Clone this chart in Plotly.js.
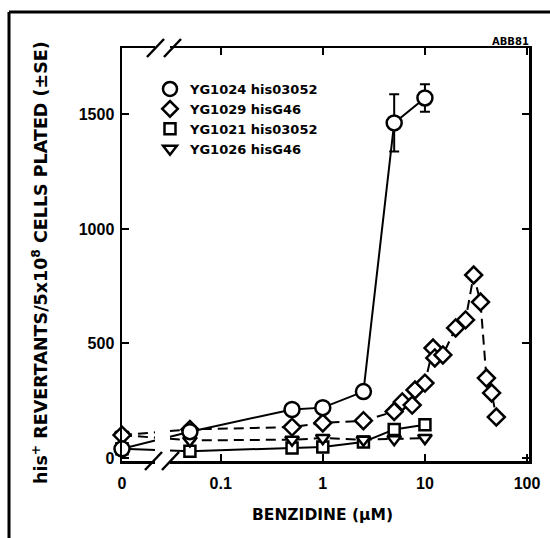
<!DOCTYPE html>
<html><head><meta charset="utf-8">
<script src="https://cdn.plot.ly/plotly-3.0.1.min.js"></script>
<style>html,body{margin:0;padding:0;background:#fff;} #chart{width:550px;height:538px;}</style>
</head><body><div id="chart"></div>
<script>
// ---- data (benzidine dose in uM, revertants per plate) ----
const doseCircle   = [0, 0.05, 0.5, 1, 2.5, 5, 10];
const revCircle    = [40, 115, 212, 220, 290, 1463, 1572];
const errCircle    = [0, 0, 0, 0, 0, 125, 60];
const doseDiamond  = [0, 0.05, 0.5, 1, 2.5, 5, 6, 7.5, 8, 10, 12, 12.5, 15, 20, 25, 30, 35, 40, 45, 50];
const revDiamond   = [100, 125, 135, 153, 163, 203, 245, 231, 297, 327, 480, 437, 450, 568, 603, 799, 681, 349, 284, 179];
const doseSquare   = [0, 0.05, 0.5, 1, 2.5, 5, 10];
const revSquare    = [40, 30, 44, 48, 70, 125, 145];
const doseTriangle = [0, 0.05, 0.5, 1, 2.5, 5, 10];
const revTriangle  = [100, 77, 80, 87, 80, 82, 87];
const seriesNames  = ["YG1024 his03052", "YG1029 hisG46", "YG1021 his03052", "YG1026 hisG46"];
const xTickVals    = [0, 0.1, 1, 10, 100];
const xTickText    = ["0", "0.1", "1", "10", "100"];
const yTickVals    = [0, 500, 1000, 1500];
const xTitle = "BENZIDINE (\u00b5M)";
const yTitle = "his<sup>+</sup> REVERTANTS/5x10<sup>8</sup> CELLS PLATED (\u00b1SE)";

// ---- layout geometry ----
const W = 550, H = 538, ML = 122, MR = 21, MT = 48, MB = 77;
const PW = W - ML - MR, PH = H - MT - MB;
const XLOG_MIN = -1.966, XLOG_MAX = 2.019;
const ZERO_POS = Math.pow(10, XLOG_MIN);   // zero dose drawn on the broken axis origin
const mapDose = d => d.map(v => v === 0 ? ZERO_POS : v);
const px = x => (x - ML) / PW;
const py = y => (H - MB - y) / PH;

const FONT = {family: "Liberation Sans, Arial, sans-serif", color: "#000", weight: "bold"};
const WIDE = {family: "DejaVu Sans, Verdana, sans-serif", color: "#000", weight: "bold"};
const MLINE = {color: "#000", width: 2.5};

function trace(dose, rev, symbol, size, dash, extra) {
  return Object.assign({
    x: mapDose(dose), y: rev, type: "scatter", mode: "lines+markers",
    showlegend: false, cliponaxis: false, hoverinfo: "skip",
    line: {color: "#000", width: 2, dash: dash},
    marker: {symbol: symbol, size: size, color: "#fff", line: MLINE}
  }, extra || {});
}
function legendTrace(name, symbol, size) {
  return {x: [null], y: [null], type: "scatter", mode: "markers", name: name,
    marker: {symbol: symbol, size: size, color: "#fff", line: MLINE}};
}

const data = [
  trace(doseSquare, revSquare, "square", 11, "solid"),
  trace(doseTriangle, revTriangle, "triangle-down", 12, "10px,6px"),
  trace(doseDiamond, revDiamond, "diamond", 13, "10px,6px"),
  trace(doseCircle, revCircle, "circle", 15, "solid", {
    error_y: {type: "data", array: errCircle, visible: true, color: "#000", thickness: 2, width: 5}
  }),
  legendTrace(seriesNames[0], "circle", 14),
  legendTrace(seriesNames[1], "diamond", 12),
  legendTrace(seriesNames[2], "square", 11),
  legendTrace(seriesNames[3], "triangle-down", 12)
];

function seg(x0, y0, x1, y1, w) {
  return {type: "line", xref: "paper", yref: "paper", x0: px(x0), y0: py(y0), x1: px(x1), y1: py(y1),
    line: {color: "#000", width: w || 2.5}, layer: "above"};
}

const layout = {
  width: W, height: H,
  margin: {l: ML, r: MR, t: MT, b: MB, pad: 0},
  paper_bgcolor: "#fff", plot_bgcolor: "#fff",
  font: Object.assign({size: 15}, FONT),
  showlegend: true,
  legend: {x: px(150), y: py(74), xanchor: "left", yanchor: "top",
    bgcolor: "rgba(0,0,0,0)", borderwidth: 0, tracegroupgap: 0, itemwidth: 30,
    font: Object.assign({size: 13}, WIDE)},
  xaxis: {type: "log", range: [XLOG_MIN, XLOG_MAX], tickmode: "array",
    tickvals: mapDose(xTickVals), ticktext: xTickText,
    ticks: "inside", ticklen: 7, tickwidth: 2, tickcolor: "#000", ticklabelstandoff: 6,
    showline: true, linecolor: "#000", linewidth: 2.5, mirror: "ticks",
    showgrid: false, zeroline: false, tickfont: Object.assign({size: 16}, FONT)},
  yaxis: {range: [-13, 1790], tickmode: "array", tickvals: yTickVals,
    ticks: "inside", ticklen: 7, tickwidth: 2, tickcolor: "#000", ticklabelstandoff: 2,
    showline: true, linecolor: "#000", linewidth: 2.5, mirror: "ticks",
    showgrid: false, zeroline: false, tickfont: Object.assign({size: 16}, FONT)},
  annotations: [
    {xref: "paper", yref: "paper", x: px(322), y: py(515), text: xTitle, showarrow: false,
      xanchor: "center", yanchor: "middle", font: Object.assign({size: 15.5}, WIDE)},
    {xref: "paper", yref: "paper", x: px(40), y: py(263), text: yTitle, showarrow: false,
      textangle: -90, xanchor: "center", yanchor: "middle", font: Object.assign({size: 17.5}, WIDE)},
    {xref: "paper", yref: "paper", x: px(510), y: py(41), text: "ABB81", showarrow: false,
      xanchor: "center", yanchor: "middle", font: Object.assign({size: 10}, WIDE)}
  ],
  shapes: [
    // axis break gap
    {type: "rect", xref: "paper", yref: "paper", x0: px(155), x1: px(170), y0: -0.03, y1: 1.03,
      fillcolor: "#fff", line: {width: 0}, layer: "above"},
    // break slashes
    seg(147, 57, 164, 39), seg(164, 57, 181, 39),
    seg(145, 470, 162, 452), seg(162, 470, 179, 452),
    // outer figure border
    seg(9, 12, 550, 12, 3), seg(9, 12, 9, 540, 3)
  ]
};

Plotly.newPlot("chart", data, layout, {staticPlot: true, displayModeBar: false});
</script>
</body></html>
